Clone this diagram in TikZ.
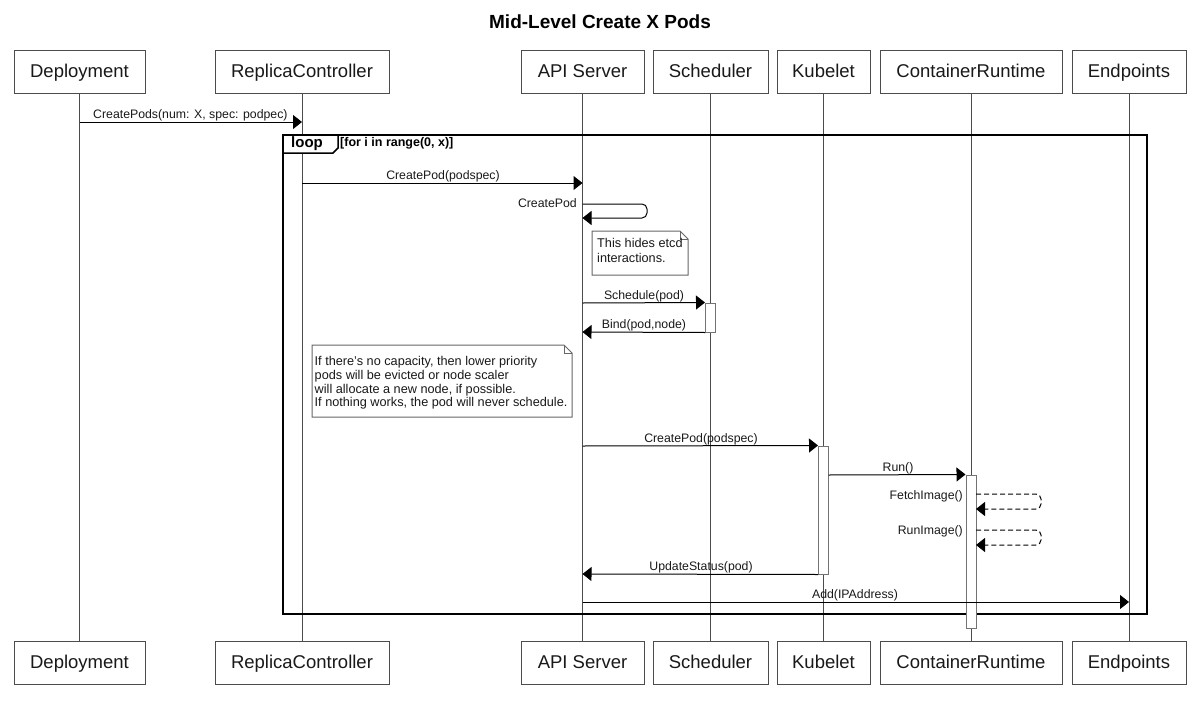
\documentclass[tikz,border=0pt]{standalone}
\usepackage{fontspec}
\setmainfont{Liberation Sans}
\usetikzlibrary{arrows.meta}
\tikzset{
  part/.style={draw=black!70, fill=white, line width=1pt, inner sep=0pt, minimum height=43pt,
    text height=14.5pt, text depth=2.5pt,
    font=\fontsize{18.5}{20}\selectfont, text=black!90},
  life/.style={draw=black!70, line width=1pt},
  msg/.style={draw=black, line width=1pt, -{Triangle[length=9pt,width=14pt]}},
  dmsg/.style={msg, dash pattern=on 5pt off 3pt},
  lbl/.style={font=\fontsize{12.3}{14}\selectfont, inner sep=0pt, text=black!90},
  act/.style={draw=black!55, fill=white, line width=1pt, inner sep=0pt, minimum width=10pt},
  notebox/.style={draw=black!60, fill=white, line width=1pt},
  notetext/.style={inner sep=0pt, align=left, anchor=north west, text=black!90},
  loopframe/.style={draw=black, line width=2pt},
}
\begin{document}
\begin{tikzpicture}[x=1pt,y=-1pt]
\useasboundingbox (0,0) rectangle (1200,707);
% title
\node[font=\bfseries\fontsize{19}{21}\selectfont, anchor=base, inner sep=0pt] (title) at (600,28) {Mid-Level Create X Pods};
% participants top
\node[part, minimum width=131pt] (dep) at (79.5,71.5) {Deployment};
\node[part, minimum width=174pt] (rc) at (302,71.5) {ReplicaController};
\node[part, minimum width=123pt] (api) at (582.5,71.5) {API Server};
\node[part, minimum width=115pt] (sch) at (710.5,71.5) {Scheduler};
\node[part, minimum width=93pt] (kub) at (823.5,71.5) {Kubelet};
\node[part, minimum width=182pt] (cr) at (971,71.5) {ContainerRuntime};
\node[part, minimum width=114pt] (ep) at (1129,71.5) {Endpoints};
% participants bottom
\node[part, minimum width=131pt] (depB) at (79.5,662.5) {Deployment};
\node[part, minimum width=174pt] (rcB) at (302,662.5) {ReplicaController};
\node[part, minimum width=123pt] (apiB) at (582.5,662.5) {API Server};
\node[part, minimum width=115pt] (schB) at (710.5,662.5) {Scheduler};
\node[part, minimum width=93pt] (kubB) at (823.5,662.5) {Kubelet};
\node[part, minimum width=182pt] (crB) at (971,662.5) {ContainerRuntime};
\node[part, minimum width=114pt] (epB) at (1129,662.5) {Endpoints};
% lifelines
\draw[life] (dep) -- (depB);
\draw[life] (rc) -- (rcB);
\draw[life] (api) -- (apiB);
\draw[life] (sch) -- (schB);
\draw[life] (kub) -- (kubB);
\draw[life] (cr) -- (crB);
\draw[life] (ep) -- (epB);
% loop frame
\draw[loopframe] (283,135) rectangle (1147,614);
\draw[draw=black, line width=1.5pt, fill=white] (283,135) -- (338,135) -- (338,148) -- (333,153) -- (283,153) -- cycle;
\node[font=\bfseries\fontsize{15}{17}\selectfont, inner sep=0pt] (looptag) at (307,144) {loop};
\node[font=\bfseries\fontsize{12.5}{14}\selectfont, inner sep=0pt, anchor=west] (loopcond) at (340,143) {[for i in range(0, x)]};
% activation bars
\node[act, minimum height=29pt] (sa) at (710.5,317.5) {};
\node[act, minimum height=128pt] (ka) at (823.5,510) {};
\node[act, minimum height=153pt] (ca) at (971,551.5) {};
% 1 CreatePods
\coordinate (m1a) at (79.5,122); \coordinate (m1b) at (302,122);
\draw[msg] (m1a) -- (m1b);
\node[lbl, anchor=south west] (l1) at (93,121) {CreatePods(num: X, spec: podpec)};
% 2 CreatePod(podspec)
\coordinate (m2a) at (302,183); \coordinate (m2b) at (582.5,183);
\draw[msg] (m2a) -- (m2b);
\node[lbl, anchor=south] (l2) at (443,182) {CreatePod(podspec)};
% 3 self CreatePod
\coordinate (m3a) at (582.5,204); \coordinate (m3b) at (647,204);
\coordinate (m3c) at (647,218); \coordinate (m3d) at (582.5,218);
\draw[msg, rounded corners=5pt] (m3a) -- (m3b) -- (m3c) -- (m3d);
\node[lbl, anchor=east] (l3) at (577,203.5) {CreatePod};
% note 1
\draw[notebox] (592,231) -- (680,231) -- (688,239) -- (688,275) -- (592,275) -- cycle;
\draw[draw=black!60, line width=1pt] (680,231) -- (680,239) -- (688,239);
\node[notetext, font=\fontsize{12.7}{15}\selectfont] (n1) at (597,238) {This hides etcd\\interactions.};
% 4 Schedule
\coordinate (m4a) at (582.5,303);
\draw[msg] (m4a) -- (sa.north west);
\node[lbl, anchor=south] (l4) at (644,302) {Schedule(pod)};
% 5 Bind
\coordinate (m5b) at (582.5,332);
\draw[msg] (sa.south west) -- (m5b);
\node[lbl, anchor=south] (l5) at (644,331) {Bind(pod,node)};
% note 2
\draw[notebox] (312,345) -- (564,345) -- (572,353) -- (572,417) -- (312,417) -- cycle;
\draw[draw=black!60, line width=1pt] (564,345) -- (564,353) -- (572,353);
\node[notetext, font=\fontsize{12.7}{13.8}\selectfont] (n2) at (314.5,356) {If there's no capacity, then lower priority\\pods will be evicted or node scaler\\will allocate a new node, if possible.\\If nothing works, the pod will never schedule.};
% 6 CreatePod to Kubelet
\coordinate (m6a) at (582.5,446);
\draw[msg] (m6a) -- (ka.north west);
\node[lbl, anchor=south] (l6) at (701,445) {CreatePod(podspec)};
% 7 Run
\coordinate (m7a) at (828.5,475);
\draw[msg] (m7a) -- (ca.north west);
\node[lbl, anchor=south] (l7) at (898,474) {Run()};
% 8 FetchImage
\coordinate (m8a) at (976,494); \coordinate (m8b) at (1041,494);
\coordinate (m8c) at (1041,509); \coordinate (m8d) at (976,509);
\draw[dmsg, rounded corners=5pt] (m8a) -- (m8b) -- (m8c) -- (m8d);
\node[lbl, anchor=east] (l8) at (963,496) {FetchImage()};
% 9 RunImage
\coordinate (m9a) at (976,530); \coordinate (m9b) at (1041,530);
\coordinate (m9c) at (1041,545); \coordinate (m9d) at (976,545);
\draw[dmsg, rounded corners=5pt] (m9a) -- (m9b) -- (m9c) -- (m9d);
\node[lbl, anchor=east] (l9) at (963,531) {RunImage()};
% 10 UpdateStatus
\coordinate (m10b) at (582.5,574);
\draw[msg] (ka.south west) -- (m10b);
\node[lbl, anchor=south] (l10) at (701,573) {UpdateStatus(pod)};
% 11 Add
\coordinate (m11a) at (582.5,602); \coordinate (m11b) at (1129,602);
\draw[msg] (m11a) -- (m11b);
\node[lbl, anchor=south] (l11) at (855,601) {Add(IPAddress)};
\end{tikzpicture}
\end{document}
